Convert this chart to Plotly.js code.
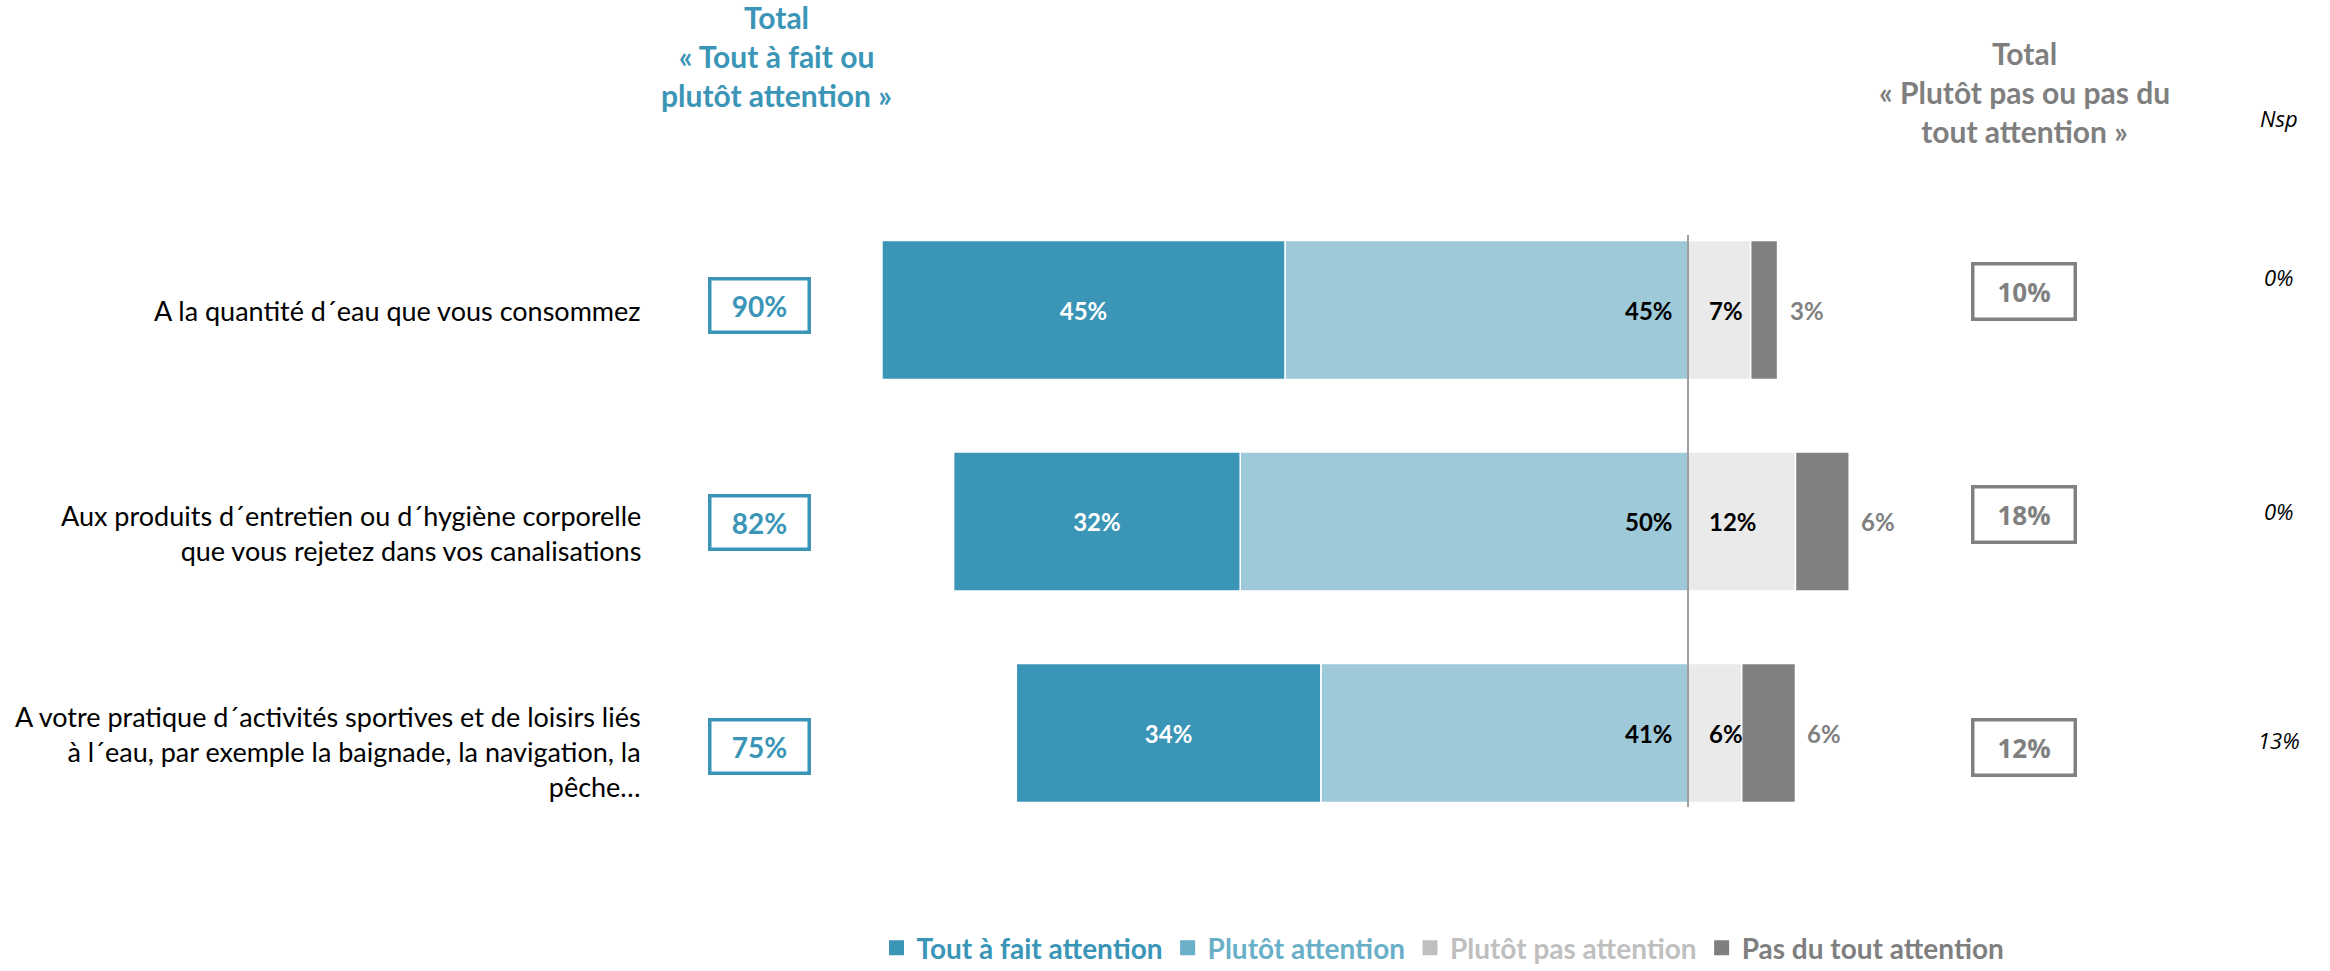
<!DOCTYPE html>
<html>
<head>
<meta charset="utf-8">
<script src="https://cdn.plot.ly/plotly-3.0.1.min.js"></script>
<style>html,body{margin:0;padding:0;background:#fff;}#chart{width:2330px;height:971px;}</style>
</head>
<body>
<div id="chart"></div>
<script>
// ---------- data ----------
const categories = [
  "A la quantité d´eau que vous consommez",
  "Aux produits d´entretien ou d´hygiène corporelle<br>que vous rejetez dans vos canalisations",
  "A votre pratique d´activités sportives et de loisirs liés<br>à l´eau, par exemple la baignade, la navigation, la<br>pêche…"
];
const seriesNames = ["Tout à fait attention", "Plutôt attention", "Plutôt pas attention", "Pas du tout attention"];
const toutAFait = [45, 32, 34];
const plutot = [45, 50, 41];
const plutotPas = [7, 12, 6];
const pasDuTout = [3, 6, 6];
const totalAttention = [90, 82, 75];
const totalPasAttention = [10, 18, 12];
const nsp = [0, 0, 13];
const titleLeft = "Total<br>« Tout à fait ou<br>plutôt attention »";
const titleRight = "Total<br>« Plutôt pas ou pas du<br>tout attention »";
const nspTitle = "Nsp";

// ---------- styles ----------
const W = 2330, H = 971;
const C_DARK = "#3A95B7", C_LIGHT = "#9DC9D9", C_LGREY = "#EAEAEA", C_DGREY = "#808080";
const legendColors = ["#3A95B7", "#6AAFC8", "#BFBFBF", "#7F7F7F"];
const FONT = "Lato, 'Open Sans', sans-serif";
const px = x => x / W;
const py = y => 1 - y / H;
const pct = v => v + "%";

const labelShift = [0, -11.5, -18];
const leftBoxShift = [4.5, -0.5, -13];
const rightBoxShift = [19, 7.5, -14];
const nspShift = [33, 10.5, -7];

const barLine = {color: "#FFFFFF", width: 1.5};
const traces = [
  { // placed first so it sits next to zero on the negative side
    type: "bar", orientation: "h", name: seriesNames[1], showlegend: false,
    y: categories, x: plutot.map(v => -v), marker: {color: C_LIGHT, line: barLine},
    textposition: "none", hoverinfo: "skip"
  },
  {
    type: "bar", orientation: "h", name: seriesNames[0], showlegend: false,
    y: categories, x: toutAFait.map(v => -v), marker: {color: C_DARK, line: barLine},
    text: toutAFait.map(pct), textposition: "inside", insidetextanchor: "middle", constraintext: "none",
    textfont: {family: FONT, size: 24, color: "#FFFFFF", weight: "bold"}, hoverinfo: "skip"
  },
  {
    type: "bar", orientation: "h", name: seriesNames[2], showlegend: false,
    y: categories, x: plutotPas, marker: {color: C_LGREY, line: barLine},
    textposition: "none", hoverinfo: "skip"
  },
  {
    type: "bar", orientation: "h", name: seriesNames[3], showlegend: false,
    y: categories, x: pasDuTout, marker: {color: C_DGREY, line: barLine},
    textposition: "none", hoverinfo: "skip"
  }
];
// legend entries (square keys in the legend's own colours)
seriesNames.forEach((n, i) => {
  traces.push({
    type: "scatter", mode: "markers", x: [null], y: [null], hoverinfo: "skip",
    name: `<span style="color:${legendColors[i]}">${n}</span>`, showlegend: true, legendrank: i + 1,
    marker: {symbol: "square", size: 15, color: legendColors[i]}
  });
});

const annotations = [];
// titles
annotations.push({xref: "paper", yref: "paper", x: px(776), y: py(56), xanchor: "center", yanchor: "middle",
  text: titleLeft, showarrow: false, font: {family: FONT, size: 30, color: C_DARK, weight: "bold"}});
annotations.push({xref: "paper", yref: "paper", x: px(2024), y: py(92), xanchor: "center", yanchor: "middle",
  text: titleRight, showarrow: false, font: {family: FONT, size: 30, color: "#7F7F7F", weight: "bold"}});
annotations.push({xref: "paper", yref: "paper", x: px(2279), y: py(118), xanchor: "center", yanchor: "middle",
  text: nspTitle, showarrow: false, font: {family: "'Open Sans', sans-serif", size: 22, color: "#000000", style: "italic"}});

categories.forEach((cat, i) => {
  // category label
  annotations.push({xref: "paper", yref: "y", x: px(643), y: cat, yshift: labelShift[i], xanchor: "right", yanchor: "middle",
    align: "right", text: cat, showarrow: false, font: {family: FONT, size: 27, color: "#000000"}});
  // left total box
  annotations.push({xref: "paper", yref: "y", x: px(759), y: cat, yshift: leftBoxShift[i], xanchor: "center", yanchor: "middle",
    text: pct(totalAttention[i]), showarrow: false, width: 96, height: 50, borderpad: 0, borderwidth: 3.5,
    bordercolor: C_DARK, font: {family: FONT, size: 28, color: C_DARK, weight: "bold"}});
  // right total box
  annotations.push({xref: "paper", yref: "y", x: px(2024), y: cat, yshift: rightBoxShift[i], xanchor: "center", yanchor: "middle",
    text: pct(totalPasAttention[i]), showarrow: false, width: 99, height: 52, borderpad: 0, borderwidth: 3.5,
    bordercolor: "#808080", font: {family: "'Open Sans', sans-serif", size: 26, color: "#808080", weight: "bold"}});
  // nsp
  annotations.push({xref: "paper", yref: "y", x: px(2279), y: cat, yshift: nspShift[i], xanchor: "center", yanchor: "middle",
    text: pct(nsp[i]), showarrow: false, font: {family: "'Open Sans', sans-serif", size: 22, color: "#000000", style: "italic"}});
  // "Plutôt attention" label at the inner end of the bar
  annotations.push({xref: "x", yref: "y", x: 0, y: cat, xshift: -13, xanchor: "right", yanchor: "middle",
    text: pct(plutot[i]), showarrow: false, font: {family: FONT, size: 24, color: "#000000", weight: "bold"}});
  // "Plutôt pas attention" label just right of zero
  annotations.push({xref: "x", yref: "y", x: 0, y: cat, xshift: 19, xanchor: "left", yanchor: "middle",
    text: pct(plutotPas[i]), showarrow: false, font: {family: FONT, size: 24, color: "#000000", weight: "bold"}});
  // "Pas du tout attention" label outside the bar
  annotations.push({xref: "x", yref: "y", x: plutotPas[i] + pasDuTout[i], y: cat, xshift: 10, xanchor: "left", yanchor: "middle",
    text: pct(pasDuTout[i]), showarrow: false, font: {family: FONT, size: 24, color: "#808080", weight: "bold"}});
});

const pxPerUnit = 8.956, zeroPx = 1688;
const layout = {
  width: W, height: H,
  margin: {l: 0, r: 0, t: 0, b: 0, autoexpand: false},
  paper_bgcolor: "#FFFFFF", plot_bgcolor: "#FFFFFF",
  barmode: "relative", bargap: 0.343,
  xaxis: {range: [-zeroPx / pxPerUnit, (W - zeroPx) / pxPerUnit], visible: false, showgrid: false, zeroline: false, fixedrange: true},
  yaxis: {type: "category", categoryorder: "array", categoryarray: categories, range: [3.125, -1.466],
          visible: false, showgrid: false, zeroline: false, fixedrange: true},
  showlegend: true,
  legend: {orientation: "h", x: px(1443), xanchor: "center", y: py(948), yanchor: "middle",
           font: {family: FONT, size: 28, weight: "bold"}, bgcolor: "rgba(0,0,0,0)", traceorder: "normal", itemclick: false},
  shapes: [{type: "line", xref: "x", yref: "y", x0: 0, x1: 0, y0: -0.355, y1: 2.35,
            line: {color: "#7F7F7F", width: 1.5}, layer: "above"}],
  annotations: annotations
};

Plotly.newPlot("chart", traces, layout, {displayModeBar: false, staticPlot: true});
</script>
</body>
</html>
